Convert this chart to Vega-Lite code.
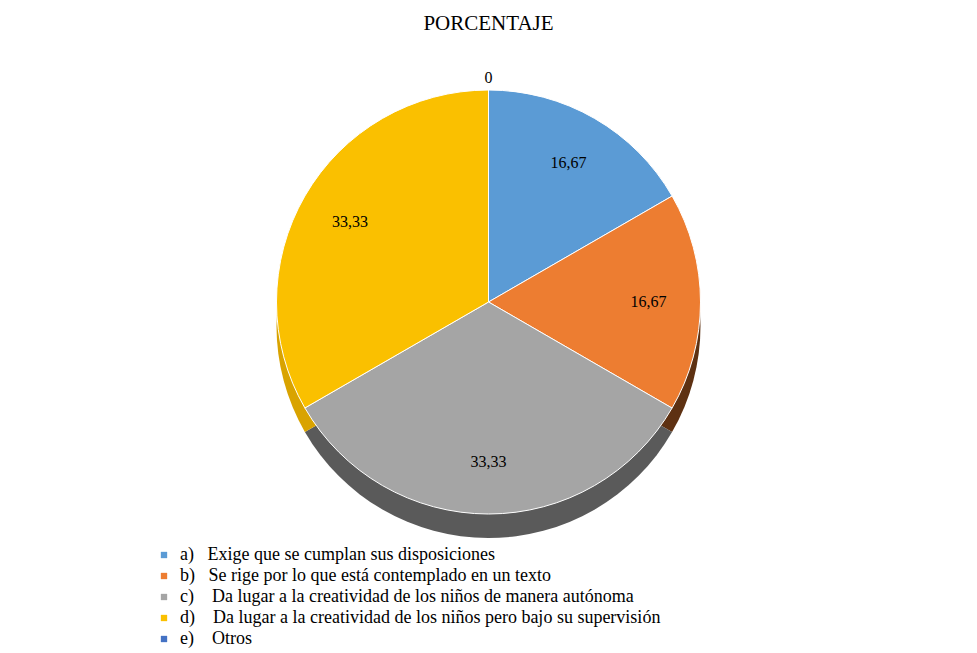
{
  "$schema": "https://vega.github.io/schema/vega-lite/v6.json",
  "width": 977,
  "height": 520,
  "autosize": "none",
  "padding": {"top": 42, "left": 0, "right": 0, "bottom": 91},
  "background": "white",
  "title": {
    "text": "PORCENTAJE",
    "font": "Liberation Serif",
    "fontSize": 21,
    "fontWeight": "normal",
    "color": "#000000",
    "anchor": "middle",
    "offset": 8
  },
  "data": {
    "values": [
      {"categoria": "a)\u00a0\u00a0 Exige que se cumplan sus disposiciones", "valor": 16.67, "etiqueta": "16,67"},
      {"categoria": "b)\u00a0\u00a0 Se rige por lo que está contemplado en un texto", "valor": 16.67, "etiqueta": "16,67"},
      {"categoria": "c)\u00a0\u00a0\u00a0 Da lugar a la creatividad de los niños de manera autónoma", "valor": 33.33, "etiqueta": "33,33"},
      {"categoria": "d)\u00a0\u00a0\u00a0 Da lugar a la creatividad de los niños pero bajo su supervisión", "valor": 33.33, "etiqueta": "33,33"},
      {"categoria": "e)\u00a0\u00a0\u00a0 Otros", "valor": 0, "etiqueta": "0"}
    ]
  },
  "encoding": {
    "theta": {"field": "valor", "type": "quantitative", "stack": true, "sort": null},
    "order": {"field": "categoria", "type": "nominal"}
  },
  "layer": [
    {
      "mark": {"type": "arc", "outerRadius": 212, "yOffset": 24},
      "encoding": {
        "color": {
          "field": "categoria",
          "type": "nominal",
          "scale": {"range": ["#3a6a99", "#5E3112", "#5a5a5a", "#D9A300", "#2f4f8a"]},
          "legend": null
        }
      }
    },
    {
      "mark": {"type": "arc", "outerRadius": 212, "stroke": "#ffffff", "strokeWidth": 1},
      "encoding": {
        "color": {
          "field": "categoria",
          "type": "nominal",
          "scale": {"range": ["#5B9BD5", "#ED7D31", "#A5A5A5", "#FAC000", "#4472C4"]},
          "legend": {
            "title": null,
            "orient": "none",
            "legendX": 155,
            "legendY": 504,
            "symbolType": "square",
            "symbolSize": 40,
            "symbolStrokeWidth": 0,
            "labelFont": "Liberation Serif",
            "labelFontSize": 18,
            "labelColor": "#000000",
            "labelLimit": 900,
            "rowPadding": 3,
            "labelOffset": 7
          }
        }
      }
    },
    {
      "transform": [{"filter": "datum.valor > 0"}],
      "mark": {"type": "text", "font": "Liberation Serif", "fontSize": 16, "color": "#000000", "radius": 160},
      "encoding": {"text": {"field": "etiqueta", "type": "nominal"}}
    },
    {
      "transform": [{"filter": "datum.valor == 0"}],
      "mark": {"type": "text", "font": "Liberation Serif", "fontSize": 16, "color": "#000000", "radius": 224},
      "encoding": {"text": {"field": "etiqueta", "type": "nominal"}}
    }
  ],
  "resolve": {"scale": {"color": "independent"}},
  "config": {
    "view": {"stroke": null},
    "legend": {"labelFont": "Liberation Serif", "labelFontSize": 18}
  }
}
